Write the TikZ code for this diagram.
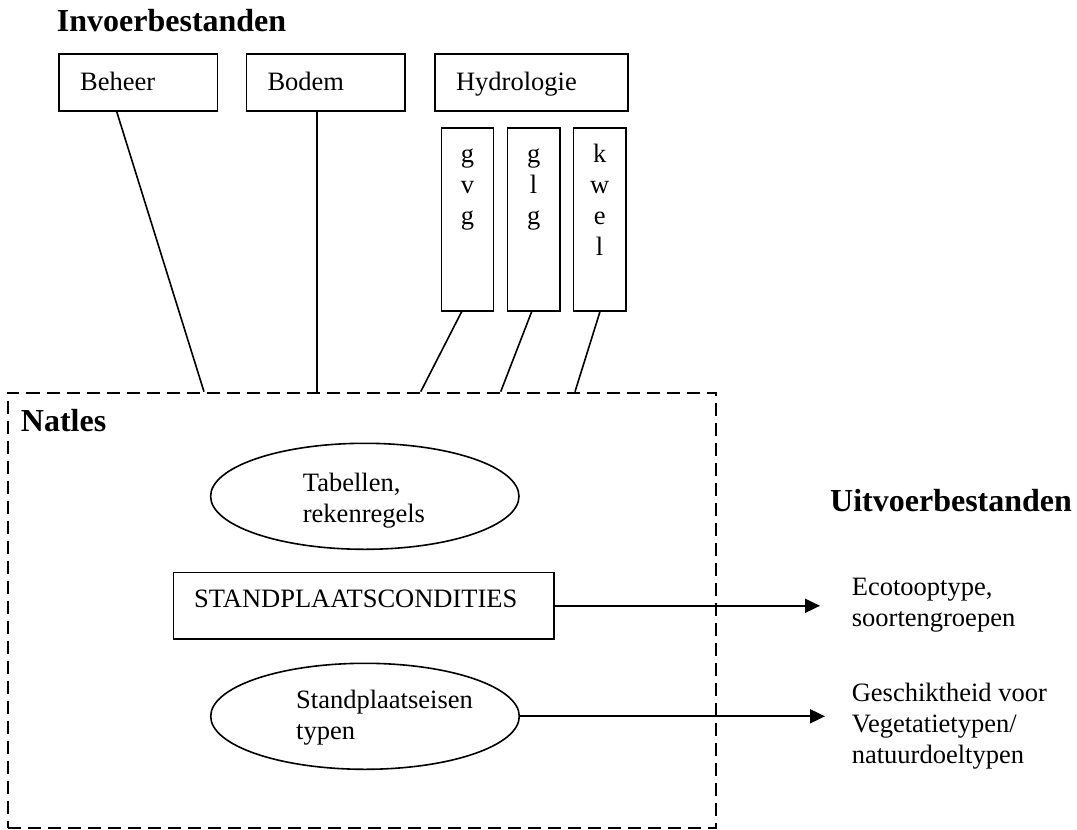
\documentclass[tikz,border=0pt]{standalone}
\usepackage{fontspec}
\setmainfont{Liberation Serif}
\usetikzlibrary{arrows.meta,calc,shapes.geometric}
\tikzset{
  txt/.style={font=\fontsize{26.5}{31}\selectfont, inner sep=0pt},
  head/.style={font=\fontsize{32}{38}\selectfont\bfseries, inner sep=0pt, anchor=base west},
  inbox/.style={draw, line width=1.6pt, txt, anchor=north west, align=left,
    inner xsep=21pt, inner ysep=0pt, text height=17.5pt, text depth=2.3pt, minimum height=56.7pt},
  smallbox/.style={draw, line width=1.6pt, anchor=north west, minimum height=182.7pt, inner sep=0pt},
  vtext/.style={txt, align=center, anchor=north},
  oval/.style={draw, line width=1.6pt, ellipse, inner sep=0pt, minimum width=308.4pt, minimum height=106pt},
  conn/.style={line width=1.6pt},
  arr/.style={line width=1.8pt, -{Triangle[length=15pt,width=14pt]}},
  natbox/.style={draw, line width=1.8pt, dash pattern=on 13pt off 7pt, anchor=north west,
    minimum width=708.3pt, minimum height=435.3pt, inner sep=0pt}
}
\begin{document}
\begin{tikzpicture}[x=1pt,y=-1pt]
\useasboundingbox (0,0) rectangle (1077,830);

% headings
\node[head] (inv) at (56.7,31) {Invoerbestanden};
\node[head] (uit) at (830,511.7) {Uitvoerbestanden};

% input boxes
\node[inbox, text width=116.4pt] (beheer) at (58.3,53.3) {Beheer};
\node[inbox, text width=116.3pt] (bodem) at (245.7,53.3) {Bodem};
\node[inbox, text width=151pt] (hydro) at (434.3,53.3) {Hydrologie};

% hydrology sub boxes
\node[smallbox, minimum width=52pt] (gvg) at (440.7,127.3) {};
\node[smallbox, minimum width=52.3pt] (glg) at (506.7,127.3) {};
\node[smallbox, minimum width=52.3pt] (kwel) at (572.7,127.3) {};
\node[vtext] (gvgt) at ($(gvg.north)+(0,15.7)$) {\rule{0pt}{19pt}g\\v\\g};
\node[vtext] (glgt) at ($(glg.north)+(0,15.7)$) {\rule{0pt}{19pt}g\\l\\g};
\node[vtext] (kwelt) at ($(kwel.north)+(0,15.7)$) {\rule{0pt}{19pt}k\\w\\e\\l};

% Natles dashed frame
\node[natbox] (nat) at (6.7,391.7) {};
\node[head] (natles) at (20.7,431.7) {Natles};

% connectors into Natles
\draw[conn] ($(beheer.south west)+(58.4,0)$) -- ($(nat.north west)+(197.3,0)$);
\draw[conn] ($(bodem.south west)+(71,0)$) -- ($(nat.north west)+(310,0)$);
\draw[conn] ($(gvg.south west)+(21,0)$) -- ($(nat.north west)+(414,0)$);
\draw[conn] ($(glg.south west)+(25,0)$) -- ($(nat.north west)+(494,0)$);
\draw[conn] ($(kwel.south west)+(27.3,0)$) -- ($(nat.north west)+(568.3,0)$);

% inside Natles
\node[oval] (tab) at (364.8,496.3) {};
\node[txt, align=left, anchor=north west] (tabt) at (302.7,472.7) {\rule{0pt}{19pt}Tabellen,\\rekenregels};

\node[inbox, text width=339.4pt, minimum height=66.6pt, inner xsep=20.6pt, text depth=14.1pt] (sp) at (172.7,571.7) {STANDPLAATSCONDITIES};

\node[oval, minimum width=308.6pt] (spe) at (365,716.3) {};
\node[txt, align=left, anchor=north west] (spet) at (296,689.3) {\rule{0pt}{19pt}Standplaatseisen\\typen};

% outputs
\node[txt, align=left, anchor=north west] (eco) at (851.7,576) {\rule{0pt}{19pt}Ecotooptype,\\soortengroepen};
\node[txt, align=left, anchor=north west] (ges) at (851.6,682) {\rule{0pt}{19pt}Geschiktheid voor\\Vegetatietypen/\\natuurdoeltypen};

\draw[arr] (sp.east) -- ($(sp.east -| eco.west)+(-31.7,0)$);
\draw[arr] (spe.east) -- ($(spe.east -| ges.west)+(-26.6,0)$);
\end{tikzpicture}
\end{document}
